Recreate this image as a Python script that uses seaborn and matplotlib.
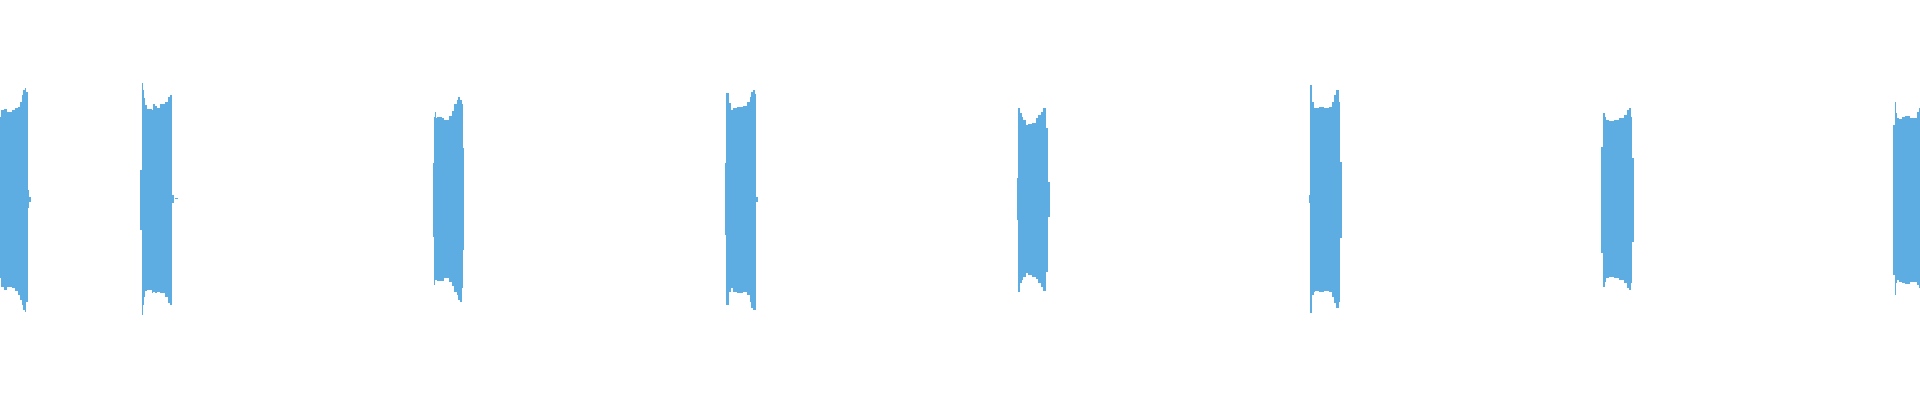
import numpy as np
import matplotlib
matplotlib.use("Agg")
import matplotlib.pyplot as plt
import seaborn as sns

# waveform envelope, one burst at a time (time in ms, amplitude in units)
# edges = segment boundaries, top / bot = peak amplitude above / below zero

b1_edges = [0, 1, 4.3, 6.7, 10, 12.3, 15, 18.3, 20, 21.7, 23.3, 25, 26, 27.7, 29.3, 30.7]
b1_top = [82, 89, 90, 87, 87, 89, 91, 92, 97, 104, 109, 111, 107, 9, 2]
b1_bot = [79, 88, 91, 88, 88, 89, 92, 96, 101, 106, 111, 113, 103, 9, 3]

b2_edges = [140, 141.7, 142.7, 144, 145, 146.7, 151.7, 153.3, 155, 156.7, 160, 165, 168.3, 170, 171.7, 174, 175, 178.3]
b2_top = [29, 116, 109, 101, 94, 90, 89, 95, 93, 91, 95, 97, 102, 104, 4, 0, 1]
b2_bot = [31, 116, 106, 98, 92, 91, 94, 93, 94, 93, 94, 98, 104, 106, 4, 0, 0]

b3_edges = [432.7, 434, 435, 436, 437, 441.7, 444, 449, 451.7, 454.3, 456.7, 458.3, 460, 461.7, 462.7, 464.3]
b3_top = [36, 82, 87, 81, 82, 81, 79, 83, 88, 95, 99, 102, 99, 95, 51]
b3_bot = [38, 86, 81, 81, 82, 82, 79, 83, 87, 93, 96, 101, 103, 89, 51]

b4_edges = [724.7, 726.3, 728.7, 730.7, 733, 737, 743, 747.3, 749.7, 751.3, 753, 754.7, 755.7, 758]
b4_top = [36, 106, 96, 89, 91, 92, 93, 97, 102, 107, 109, 105, 2]
b4_bot = [36, 106, 93, 89, 93, 94, 93, 96, 103, 109, 111, 111, 3]

b5_edges = [1016.7, 1018.3, 1020, 1021.7, 1023.3, 1026, 1028.3, 1031.7, 1036, 1038.3, 1040.7, 1043.3, 1045.7, 1047.7, 1050]
b5_top = [21, 91, 86, 82, 79, 74, 75, 76, 81, 84, 87, 91, 71, 17]
b5_bot = [21, 93, 84, 81, 78, 74, 76, 78, 80, 84, 88, 92, 73, 18]

b6_edges = [1308.7, 1310.3, 1312, 1313.7, 1315.3, 1318.7, 1323.7, 1328.7, 1332, 1334.3, 1336.3, 1338.7, 1340.3, 1342]
b6_top = [4, 114, 97, 91, 91, 92, 91, 92, 97, 104, 109, 97, 37]
b6_bot = [4, 114, 96, 93, 92, 93, 92, 93, 98, 104, 109, 103, 39]

b7_edges = [1601.3, 1603, 1604.7, 1606.3, 1609, 1614, 1619, 1624, 1627.3, 1629, 1630.7, 1632.3, 1634]
b7_top = [52, 86, 82, 79, 78, 79, 81, 84, 89, 91, 82, 41]
b7_bot = [54, 88, 83, 79, 78, 79, 81, 84, 89, 91, 84, 43]

b8_edges = [1893.3, 1895, 1896, 1897.3, 1899.3, 1901.7, 1905, 1910, 1913.3, 1917.3, 1919.3, 1920]
b8_top = [74, 97, 86, 81, 80, 82, 83, 81, 81, 87, 91]
b8_bot = [76, 96, 84, 81, 83, 84, 85, 83, 83, 86, 89]

bursts = [
    (b1_edges, b1_top, b1_bot),
    (b2_edges, b2_top, b2_bot),
    (b3_edges, b3_top, b3_bot),
    (b4_edges, b4_top, b4_bot),
    (b5_edges, b5_top, b5_bot),
    (b6_edges, b6_top, b6_bot),
    (b7_edges, b7_top, b7_bot),
    (b8_edges, b8_top, b8_bot),
]

sns.set_theme(style="white")
wave_color = "#5DADE2"

fig = plt.figure(figsize=(19.2, 4), dpi=100)
ax = fig.add_axes([0, 0, 1, 1])

for edges, top, bot in bursts:
    ax.stairs(np.array(top), np.array(edges), baseline=-np.array(bot),
              fill=True, color=wave_color, linewidth=0)

ax.set_xlim(0, 1920)
ax.set_ylim(-201, 199)
ax.axis("off")

fig.savefig("out.png", dpi=100, facecolor="white")
